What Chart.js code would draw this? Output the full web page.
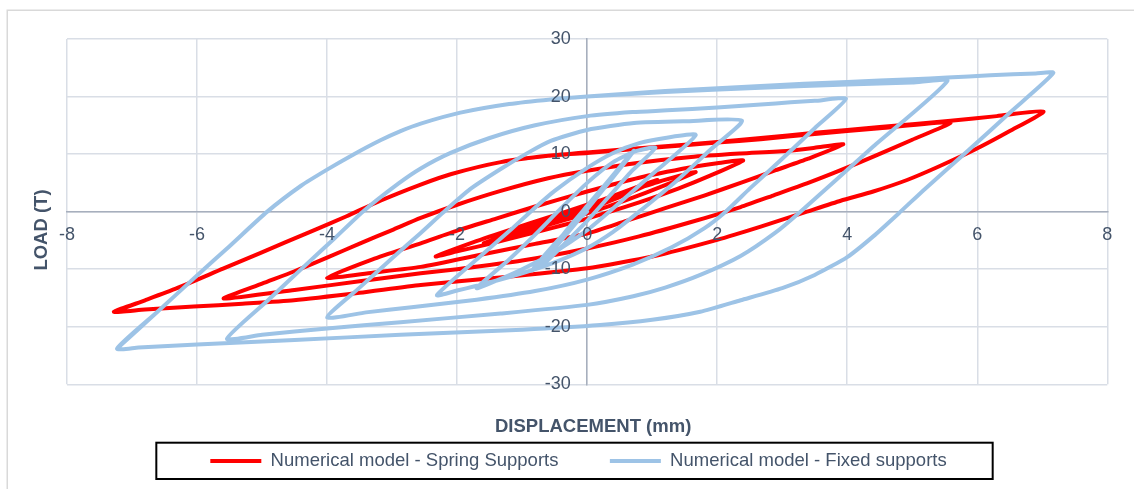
<!DOCTYPE html>
<html>
<head>
<meta charset="utf-8">
<title>Load - displacement hysteresis</title>
<script src="https://cdn.jsdelivr.net/npm/chart.js@4.4.1/dist/chart.umd.min.js"></script>
<style>
  html, body { margin: 0; padding: 0; background: #ffffff; }
  canvas { display: block; }
</style>
</head>
<body>
<canvas id="chart" width="1134" height="489"></canvas>
<script>
// Tick values of both axes
const displacementTicks = [-8, -6, -4, -2, 0, 2, 4, 6, 8];
const loadTicks = [-30, -20, -10, 0, 10, 20, 30];

// Series names and axis titles
const seriesNames = ['Numerical model - Spring Supports', 'Numerical model - Fixed supports'];
const axisTitles = ['DISPLACEMENT (mm)', 'LOAD (T)'];

// [displacement (mm), load (T)] along the cyclic path, spring supports
const springSupports = [
  [-7.28,-17.4],[-6.8,-15.4],[-6.31,-13.3],[-5.6,-9.9],[-5.03,-7.2],[-4.26,-3.5],[-3.7,-0.8],[-3.18,1.9],[-2.56,4.7],[-2.1,6.5],[-1.33,8.6],[-0.6,9.7],[0,10.3],[1.0,11.2],[2.0,12.1],[2.67,12.8],[3.5,13.7],[4.5,14.7],[5.59,15.8],[6.3,16.6],[7.02,17.4],
  [6.5,14.0],[5.95,10.7],[5.4,7.8],[4.92,5.5],[4.4,3.5],[3.9,1.9],[3.38,0],[2.67,-2.6],[2.0,-4.9],[1.0,-7.8],[0,-9.85],[-1.3,-11.4],[-2.56,-12.75],[-3.5,-14.1],[-4.51,-15.4],[-5.3,-16.0],[-6.05,-16.5],[-6.8,-17.0],[-7.28,-17.4],
  [-6.8,-15.4],[-6.31,-13.3],[-5.6,-9.9],[-5.03,-7.2],[-4.26,-3.5],[-3.7,-0.8],[-3.18,1.9],[-2.56,4.7],[-2.1,6.5],[-1.33,8.6],[-0.6,9.7],[0,10.2],[1.0,11.1],[2.0,12.0],[2.67,12.6],[3.5,13.5],[4.5,14.5],[5.59,15.5],
  [5.0,12.5],[4.41,9.6],[3.9,7.2],[3.38,4.9],[2.86,2.8],[2.36,0.8],[1.6,-1.8],[0.8,-4.3],[0,-6.4],[-1.0,-8.5],[-2.0,-10.0],[-2.56,-10.7],[-3.5,-12.1],[-4.5,-13.6],[-5.59,-15.1],
  [-5.0,-12.5],[-4.51,-10.4],[-4.0,-8.0],[-3.49,-5.5],[-3.0,-3.2],[-2.56,-1.1],[-2.0,1.2],[-1.33,3.6],[-0.6,5.8],[0,7.1],[0.8,8.5],[1.6,9.5],[2.36,10.1],[3.1,10.6],[3.5,11.1],[3.94,11.7],
  [3.4,9.2],[2.9,7.2],[2.36,5.0],[1.8,2.8],[1.2,0.6],[0.6,-1.6],[0,-3.8],[-0.8,-5.6],[-1.6,-7.4],[-2.56,-9.6],[-3.3,-10.6],[-4.0,-11.5],
  [-3.3,-8.3],[-2.56,-5.5],[-2.0,-3.3],[-1.4,-1.2],[-0.8,0.9],[0,3.5],[0.8,5.9],[1.6,7.7],[2.0,8.4],[2.4,8.9],
  [1.9,6.3],[1.4,4.0],[0.8,1.6],[0,-1.2],[-0.8,-3.6],[-1.5,-5.6],[-2.0,-6.9],[-2.33,-7.8],
  [-1.8,-5.5],[-1.2,-3.2],[-0.6,-1.0],[0,1.2],[0.6,3.4],[1.1,5.2],[1.67,6.9],
  [1.2,4.6],[0.6,2.0],[0,-0.3],[-0.6,-2.3],[-1.1,-4.0],[-1.59,-5.5],
  [-1.0,-3.0],[-0.4,-0.6],[0.2,1.9],[0.7,4.0],[1.08,5.5],
  [0.6,3.0],[0,0.3],[-0.5,-1.9],[-1.03,-3.8],
  [-0.5,-1.5],[0,0.8],[0.6,3.5],
  [0.2,1.2],[0,0]
];

// [displacement (mm), load (T)] along the cyclic path, fixed supports
const fixedSupports = [
  [-7.23,-23.8],[-6.6,-17.3],[-6.0,-11.1],[-5.5,-6.0],[-4.92,0],[-4.4,4.5],[-4.0,7.3],[-3.6,9.9],[-3.18,12.4],[-2.87,14.0],[-2.56,15.3],[-1.95,17.2],[-1.2,18.7],[-0.56,19.5],[0,20.0],[1.2,20.95],[2.67,21.85],[4.0,22.55],[5.0,23.0],[5.54,23.3],[6.2,23.7],[6.9,24.0],[7.17,24.1],
  [6.5,17.2],[5.8,10.0],[5.2,4.0],[4.82,0],[4.4,-4.3],[4.0,-7.9],[3.5,-11.0],[3.0,-13.3],[2.36,-15.4],[1.74,-17.4],[1.0,-18.8],[0.2,-19.7],[-1.0,-20.5],[-2.87,-21.4],[-4.5,-22.3],[-6.0,-23.1],[-6.9,-23.6],[-7.23,-23.8],
  [-6.6,-17.3],[-6.0,-11.1],[-5.5,-6.0],[-4.92,0],[-4.4,4.5],[-4.0,7.3],[-3.6,9.9],[-3.18,12.4],[-2.87,14.0],[-2.56,15.3],[-1.95,17.2],[-1.2,18.7],[-0.56,19.5],[0,20.0],[1.2,20.8],[2.67,21.55],[4.0,22.1],[5.0,22.45],[5.54,22.7],
  [4.4,11.3],[3.28,0],[2.9,-3.6],[2.36,-7.7],[1.74,-11.0],[1.2,-13.2],[0.71,-14.7],[0,-16.2],[-1.33,-17.7],[-2.87,-19.2],[-4.0,-20.3],[-5.0,-21.4],[-5.54,-22.1],
  [-4.9,-15.3],[-4.36,-9.6],[-3.9,-4.8],[-3.45,0],[-2.9,4.9],[-2.56,7.5],[-2.1,10.2],[-1.5,12.8],[-0.8,15.0],[0,16.6],[0.7,17.3],[1.23,17.6],[2.0,18.1],[2.67,18.6],[3.13,19.0],[3.5,19.25],[3.98,19.6],
  [3.5,14.5],[3.0,9.2],[2.5,4.0],[2.13,0],[1.8,-2.9],[1.3,-6.2],[0.7,-9.2],[0,-11.8],[-0.8,-13.8],[-1.7,-15.3],[-2.7,-16.6],[-3.4,-17.5],[-4.0,-18.4],
  [-3.5,-13.2],[-3.0,-8.1],[-2.56,-3.7],[-2.22,-0.2],[-1.8,3.9],[-1.33,7.4],[-0.9,10.3],[-0.56,12.3],[0,14.2],[0.72,15.4],[1.5,15.7],[2.38,15.8],
  [1.9,10.8],[1.4,5.6],[0.8,0],[0.4,-3.5],[0,-6.3],[-0.5,-8.8],[-1.0,-10.7],[-1.6,-12.6],[-2.0,-13.7],[-2.31,-14.5],
  [-1.7,-8.3],[-1.18,-3.2],[-0.87,0],[-0.5,3.6],[0,7.6],[0.4,10.2],[0.8,11.9],[1.2,12.8],[1.67,13.3],
  [1.0,6.5],[0.34,0],[0,-3.2],[-0.5,-7.0],[-1.0,-10.0],[-1.4,-12.0],[-1.70,-13.3],
  [-1.2,-8.3],[-0.8,-4.0],[-0.4,0.6],[0,5.0],[0.4,8.6],[0.75,10.5],[1.05,11.1],
  [0.7,7.2],[0.35,2.8],[0,-1.6],[-0.35,-5.6],[-0.65,-8.9],[-0.85,-10.2],
  [-0.6,-7.2],[-0.3,-3.0],[0,1.0],[0.3,5.0],[0.55,8.4],[0.72,10.6],
  [0.5,7.4],[0.2,3.2],[-0.1,-1.0],[-0.4,-5.0],[-0.6,-7.6],[-0.75,-8.9],
  [-0.5,-5.6],[-0.25,-2.6],[0,0]
];

const FONT = "'Liberation Sans', Arial, Helvetica, sans-serif";
const TEXT = '#44546A';
const GRID = '#D9DEE6';
const AXIS = '#A7AFBD';
const RED = '#FF0000';
const BLUE = '#9DC3E6';

const toPoints = pts => pts.map(([x, y]) => ({ x, y }));

// Chart frame, axis titles and the box around the legend
const decorations = {
  id: 'decorations',
  beforeDraw(chart) {
    const ctx = chart.ctx;
    ctx.save();
    ctx.strokeStyle = '#D9D9D9';
    ctx.lineWidth = 1.5;
    ctx.strokeRect(7.25, 10.25, chart.width + 20, chart.height + 20);
    ctx.restore();
  },
  afterDraw(chart) {
    const { ctx, chartArea: ca, legend } = chart;
    ctx.save();
    ctx.fillStyle = TEXT;
    ctx.font = 'bold 18.5px ' + FONT;
    ctx.textAlign = 'center';
    ctx.textBaseline = 'middle';
    ctx.fillText(axisTitles[0], (ca.left + ca.right) / 2 + 6, ca.bottom + 42.4);
    ctx.translate(ca.left - 25.3, ca.top + 191);
    ctx.rotate(-Math.PI / 2);
    ctx.fillText(axisTitles[1], 0, 0);
    ctx.restore();

    const boxes = legend && legend.legendHitBoxes;
    if (boxes && boxes.length) {
      const first = boxes[0];
      const last = boxes[boxes.length - 1];
      const cy = first.top + first.height / 2;
      const x0 = first.left - 54;
      const x1 = last.left + last.width + 46;
      ctx.save();
      ctx.strokeStyle = '#000000';
      ctx.lineWidth = 2;
      ctx.strokeRect(x0, cy - 18.3, x1 - x0, 36.3);
      ctx.restore();
    }
  }
};

const lineSeries = (label, pts, color, order) => ({
  label,
  data: toPoints(pts),
  xAxisID: 'x',
  yAxisID: 'y',
  showLine: true,
  borderColor: color,
  backgroundColor: color,
  borderWidth: 4,
  borderJoinStyle: 'round',
  borderCapStyle: 'round',
  pointRadius: 0,
  pointHoverRadius: 0,
  tension: 0.2,
  order
});

new Chart(document.getElementById('chart'), {
  type: 'scatter',
  data: {
    datasets: [
      lineSeries(seriesNames[0], springSupports, RED, 2),
      lineSeries(seriesNames[1], fixedSupports, BLUE, 1)
    ]
  },
  plugins: [decorations],
  options: {
    responsive: false,
    animation: false,
    devicePixelRatio: 1,
    events: [],
    layout: { padding: { left: 49.7, right: 26.7, top: 39, bottom: 8.75 } },
    scales: {
      x: {
        type: 'linear',
        position: 'center',
        min: -8,
        max: 8,
        afterBuildTicks: s => { s.ticks = displacementTicks.map(value => ({ value })); },
        grid: { color: GRID, lineWidth: 1.5, drawTicks: false },
        border: { color: AXIS, width: 1.5 },
        ticks: { color: TEXT, font: { family: FONT, size: 18 }, padding: 12.5, maxRotation: 0, autoSkip: false, z: 1 }
      },
      y: {
        type: 'linear',
        position: 'center',
        min: -30,
        max: 30,
        afterBuildTicks: s => { s.ticks = loadTicks.map(value => ({ value })); },
        grid: { color: GRID, lineWidth: 1.5, drawTicks: false },
        border: { color: AXIS, width: 1.5 },
        ticks: { color: TEXT, font: { family: FONT, size: 18 }, padding: 16.5, autoSkip: false, z: 1 }
      },
      // room for the displacement title between the plot and the legend
      xGap: {
        type: 'linear', axis: 'x', position: 'bottom',
        grid: { display: false }, border: { display: false }, ticks: { display: false },
        afterFit: s => { s.height = 16.05; }
      },
      // room for the load title left of the plot
      yGap: {
        type: 'linear', axis: 'y', position: 'left',
        grid: { display: false }, border: { display: false }, ticks: { display: false },
        afterFit: s => { s.width = 17.3; }
      }
    },
    plugins: {
      tooltip: { enabled: false },
      legend: {
        position: 'bottom',
        labels: {
          usePointStyle: true,
          pointStyle: 'line',
          pointStyleWidth: 51,
          padding: 51.4,
          color: TEXT,
          font: { family: FONT, size: 18.5 },
          sort: (a, b) => a.datasetIndex - b.datasetIndex
        }
      }
    }
  }
});
</script>
</body>
</html>
